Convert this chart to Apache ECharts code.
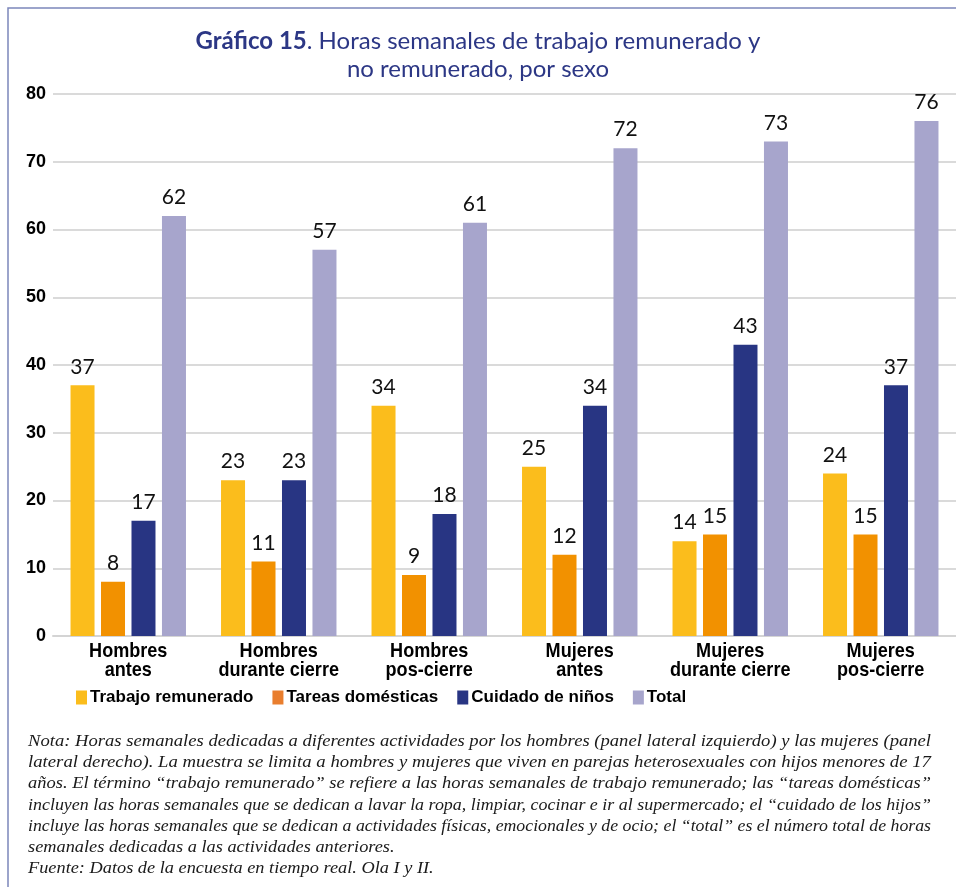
<!DOCTYPE html>
<html>
<head>
<meta charset="utf-8">
<script src="https://cdn.jsdelivr.net/npm/echarts@6/dist/echarts.min.js"></script>
<style>
  html, body { margin: 0; padding: 0; background: #ffffff; }
  #chart { width: 956px; height: 887px; }
</style>
</head>
<body>
<div id="chart"></div>
<script>
// Categories (group of bars) and weekly hours per activity
const categories = [
  'Hombres\nantes',
  'Hombres\ndurante cierre',
  'Hombres\npos-cierre',
  'Mujeres\nantes',
  'Mujeres\ndurante cierre',
  'Mujeres\npos-cierre'
];
const trabajoRemunerado = [37, 23, 34, 25, 14, 24];
const tareasDomesticas  = [8, 11, 9, 12, 15, 15];
const cuidadoNinos      = [17, 23, 18, 34, 43, 37];
const totalHoras        = [62, 57, 61, 72, 73, 76];

const seriesNames = ['Trabajo remunerado', 'Tareas domésticas', 'Cuidado de niños', 'Total'];
const yTicks = { min: 0, max: 80, interval: 10 };

const titleLines = ['Horas semanales de trabajo remunerado y', 'no remunerado, por sexo'];
const noteLines = [
  'Nota: Horas semanales dedicadas a diferentes actividades por los hombres (panel lateral izquierdo) y las mujeres (panel',
  'lateral derecho). La muestra se limita a hombres y mujeres que viven en parejas heterosexuales con hijos menores de 17',
  'años. El término “trabajo remunerado” se refiere a las horas semanales de trabajo remunerado; las “tareas domésticas”',
  'incluyen las horas semanales que se dedican a lavar la ropa, limpiar, cocinar e ir al supermercado; el “cuidado de los hijos”',
  'incluye las horas semanales que se dedican a actividades físicas, emocionales y de ocio; el “total” es el número total de horas',
  'semanales dedicadas a las actividades anteriores.',
  'Fuente: Datos de la encuesta en tiempo real. Ola I y II.'
];
const noteJustified = [true, true, true, true, true, false, false];

const colors = ['#fbbd1c', '#f29100', '#283583', '#a7a5cc'];
const BOLD_FAMILY = '"Liberation Sans", Arial, sans-serif';
const LABEL_FONT = 'Lato, "Noto Sans", sans-serif';

// Footnote lines: fitted horizontally to a justified block width
const NOTE_FONT = 'italic 17px "Liberation Serif", serif';
const noteLeft = 28, noteRight = 931, noteTop = 733, noteStep = 21.2;
const ctx = document.createElement('canvas').getContext('2d');
ctx.font = NOTE_FONT;
const widths = noteLines.map(t => ctx.measureText(t).width);
const justScales = noteLines.map((t, i) => (noteRight - noteLeft) / widths[i]);
const justifiedOnly = justScales.filter((s, i) => noteJustified[i]);
const baseScale = justifiedOnly.reduce((a, b) => a + b, 0) / justifiedOnly.length;
const noteGraphics = noteLines.map((t, i) => ({
  type: 'text',
  id: 'note' + i,
  x: noteLeft,
  y: noteTop + i * noteStep,
  scaleX: noteJustified[i] ? justScales[i] : baseScale,
  style: { text: t, font: NOTE_FONT, fill: '#1a1a1a', textVerticalAlign: 'top' }
}));

function barSeries(name, data, color) {
  return {
    name: name,
    type: 'bar',
    data: data,
    barWidth: 24,
    barGap: '27%',
    itemStyle: { color: color },
    label: {
      show: true,
      position: 'top',
      distance: 8,
      color: '#111111',
      fontFamily: LABEL_FONT,
      fontSize: 21,
      formatter: p => Math.round(p.value)
    }
  };
}

const frame = {
  type: 'rect',
  id: 'frame',
  shape: { x: 8, y: 8, width: 1000, height: 1000 },
  style: { fill: 'none', stroke: '#7c86bb', lineWidth: 1.5 },
  silent: true
};

const chart = echarts.init(document.getElementById('chart'), null, { renderer: 'canvas' });
chart.setOption({
  backgroundColor: '#ffffff',
  animation: false,
  title: {
    text: '{b|Gráfico 15}. ' + titleLines[0] + '\n' + titleLines[1],
    left: 'center',
    top: 22,
    textStyle: {
      color: '#2c3785',
      fontFamily: LABEL_FONT,
      fontWeight: 'normal',
      fontSize: 24,
      lineHeight: 28,
      rich: {
        b: { color: '#2c3785', fontFamily: LABEL_FONT, fontWeight: 'bold', fontSize: 24 }
      }
    }
  },
  legend: {
    data: seriesNames.map((n, i) => ({ name: n, itemStyle: { color: i === 1 ? '#e97e2e' : colors[i] } })),
    left: 71,
    top: 684,
    icon: 'rect',
    itemWidth: 11,
    itemHeight: 14,
    itemGap: 19,
    textStyle: { color: '#000000', fontFamily: BOLD_FAMILY, fontWeight: 'bold', fontSize: 17, padding: [0, 0, 0, -2] }
  },
  grid: { left: 53, right: -9, top: 94, bottom: 251, containLabel: false },
  xAxis: {
    type: 'category',
    data: categories,
    axisTick: { show: false },
    axisLine: { lineStyle: { color: '#d4d4d4', width: 2 } },
    axisLabel: { show: false }
  },
  yAxis: {
    type: 'value',
    min: yTicks.min,
    max: yTicks.max,
    interval: yTicks.interval,
    axisLine: { show: false },
    axisTick: { show: false },
    splitLine: { lineStyle: { color: '#dadada', width: 2 } },
    axisLabel: {
      margin: 7,
      color: '#000000',
      fontFamily: BOLD_FAMILY,
      fontWeight: 'bold',
      fontSize: 18
    }
  },
  series: [
    barSeries(seriesNames[0], trabajoRemunerado, colors[0]),
    barSeries(seriesNames[1], tareasDomesticas, colors[1]),
    barSeries(seriesNames[2], cuidadoNinos, colors[2]),
    barSeries(seriesNames[3], totalHoras, colors[3])
  ],
  graphic: [frame].concat(noteGraphics)
});

// Category names under each group, in a condensed bold face, placed at the axis positions
const axisY = chart.convertToPixel({ yAxisIndex: 0 }, 0);
const categoryLabels = categories.map((c, i) => ({
  type: 'text',
  id: 'cat' + i,
  x: chart.convertToPixel({ xAxisIndex: 0 }, i),
  y: axisY + 5,
  scaleX: 0.86,
  style: {
    text: c,
    fontFamily: BOLD_FAMILY,
    fontWeight: 'bold',
    fontSize: 21,
    lineHeight: 19.5,
    fill: '#000000',
    textAlign: 'center',
    textVerticalAlign: 'top'
  }
}));
chart.setOption({ graphic: [frame].concat(noteGraphics, categoryLabels) });
</script>
</body>
</html>
